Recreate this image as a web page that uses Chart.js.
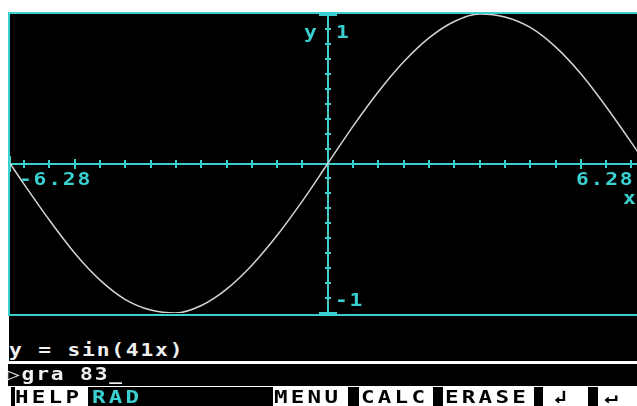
<!DOCTYPE html>
<html>
<head>
<meta charset="utf-8">
<script src="https://cdn.jsdelivr.net/npm/chart.js@4"></script>
<style>
  html, body { margin: 0; padding: 0; background: #fff; overflow: hidden; }
  #screen { position: relative; width: 637px; height: 406px; overflow: hidden; background: #fff; }
  #plot { position: absolute; left: 0; top: 0; }
  .t { position: absolute; font-family: "DejaVu Sans Mono", monospace; font-weight: bold; font-size: 17px; line-height: 17px; letter-spacing: 1.45px; white-space: pre; transform: scaleX(1.25); transform-origin: 0 0; }
  .cy { color: #3ad0d0; }
  .wh { color: #f0f0f0; }
  .bk { color: #000; }
  .blk { position: absolute; background: #000; }
  .menu { font-size: 18px; line-height: 18px; letter-spacing: 2.6px; }
</style>
</head>
<body>
<div id="screen">
  <canvas id="plot" width="637" height="320"></canvas>

  <div class="t cy" style="left:304px; top:24px;">y</div>
  <div class="t cy" style="left:336px; top:24px;">1</div>
  <div class="t cy" style="left:19px; top:171px;">-6.28</div>
  <div class="t cy" style="left:576px; top:171px;">6.28</div>
  <div class="t cy" style="left:623px; top:190px;">x</div>
  <div class="t cy" style="left:335px; top:292px;">-1</div>

  <div class="blk" style="left:9px; top:316px; width:628px; height:45px;"></div>
  <div class="blk" style="left:8px; top:364px; width:629px; height:22px;"></div>
  <div class="t wh" style="left:9px; top:342px;">y = sin(41x)</div>
  <div class="t wh" style="left:7px; top:366px;">▷gra 83_</div>

  <div class="blk" style="left:11px; top:387px; width:4px; height:19px;"></div>
  <div class="blk" style="left:88px; top:387px; width:185px; height:19px;"></div>
  <div class="blk" style="left:348px; top:387px; width:11px; height:19px;"></div>
  <div class="blk" style="left:433px; top:387px; width:10px; height:19px;"></div>
  <div class="blk" style="left:534px; top:387px; width:9px; height:19px;"></div>
  <div class="blk" style="left:588px; top:387px; width:10px; height:19px;"></div>
  <div class="t bk menu" style="left:15px; top:388px;">HELP</div>
  <div class="t cy menu" style="left:92px; top:388px;">RAD</div>
  <div class="t bk menu" style="left:274px; top:388px;">MENU</div>
  <div class="t bk menu" style="left:361px; top:388px;">CALC</div>
  <div class="t bk menu" style="left:445px; top:388px;">ERASE</div>
  <div class="t bk menu" style="left:553px; top:388px;">↲</div>
  <div class="t bk menu" style="left:604px; top:388px;">↵</div>
</div>
<script>
// curve (x, y)
const xs = [-6.28, -6, -5.5, -5, -4.5, -4, -3.5, -3, -2.5, -2, -1.5, -1, -0.5, 0,
            0.5, 1, 1.5, 2, 2.5, 3, 3.5, 4, 4.5, 5, 5.5, 6, 6.28];
const ys = [0, -0.14, -0.38, -0.60, -0.78, -0.91, -0.98, -1.00, -0.95, -0.84, -0.68, -0.48, -0.25, 0,
            0.25, 0.48, 0.68, 0.84, 0.95, 1.00, 0.98, 0.91, 0.78, 0.60, 0.38, 0.14, 0];

// axis tick marks
const xTicks = [-6, -5.5, -5, -4.5, -4, -3.5, -3, -2.5, -2, -1.5, -1, -0.5,
                0.5, 1, 1.5, 2, 2.5, 3, 3.5, 4, 4.5, 5, 5.5, 6];
const xMajor = [-6.28, -5, 5, 6.28];
const yTicks = [-0.9, -0.8, -0.7, -0.6, -0.5, -0.4, -0.3, -0.2, -0.1,
                0.1, 0.2, 0.3, 0.4, 0.5, 0.6, 0.7, 0.8, 0.9];
const yMajor = [-1, 1];

const CYAN = '#3ad0d0';

const screenAxes = {
    id: 'screenAxes',
    beforeDatasetsDraw(chart) {
        const ctx = chart.ctx;
        const a = chart.chartArea;
        const xs_ = chart.scales.x, ys_ = chart.scales.y;
        ctx.save();
        ctx.fillStyle = '#000';
        ctx.fillRect(a.left, a.top, a.right - a.left, a.bottom - a.top + 1);
        ctx.fillStyle = CYAN;
        // window frame
        ctx.fillRect(8, 12, chart.width - 8, 2);
        ctx.fillRect(8, 12, 2, 304);
        ctx.fillRect(8, 314, chart.width - 8, 2);
        const x0 = Math.round(xs_.getPixelForValue(0));
        const y0 = Math.round(ys_.getPixelForValue(0));
        ctx.fillRect(a.left, y0 - 1, a.right - a.left, 2);
        ctx.fillRect(x0 - 1, a.top, 2, a.bottom - a.top);
        xTicks.forEach(v => {
            const p = Math.round(xs_.getPixelForValue(v));
            ctx.fillRect(p - 1, y0 - 4, 2, 8);
        });
        xMajor.forEach(v => {
            const p = Math.round(xs_.getPixelForValue(v));
            if (v === -6.28) ctx.fillRect(p - 2, y0 - 8, 3, 16);
            else ctx.fillRect(p - 1, y0 - 5, 2, 10);
        });
        yTicks.forEach(v => {
            const p = Math.round(ys_.getPixelForValue(v));
            ctx.fillRect(x0 - 3, p - 1, 6, 2);
        });
        yMajor.forEach(v => {
            const p = Math.round(ys_.getPixelForValue(v));
            ctx.fillRect(x0 - 9, p - 1, 18, 3);
        });
        ctx.restore();
    }
};

new Chart(document.getElementById('plot').getContext('2d'), {
    type: 'line',
    data: {
        datasets: [{
            data: xs.map((x, i) => ({ x: x, y: ys[i] })),
            borderColor: '#d4d4d4',
            borderWidth: 1.5,
            pointRadius: 0,
            fill: false,
            cubicInterpolationMode: 'monotone'
        }]
    },
    options: {
        responsive: false,
        animation: false,
        devicePixelRatio: 1,
        layout: { padding: { left: 10, top: 14, right: 0, bottom: 7 } },
        scales: {
            x: { type: 'linear', min: -6.28, max: 6.11, display: false },
            y: { min: -1, max: 1, display: false }
        },
        plugins: { legend: { display: false }, tooltip: { enabled: false } }
    },
    plugins: [screenAxes]
});
</script>
</body>
</html>
